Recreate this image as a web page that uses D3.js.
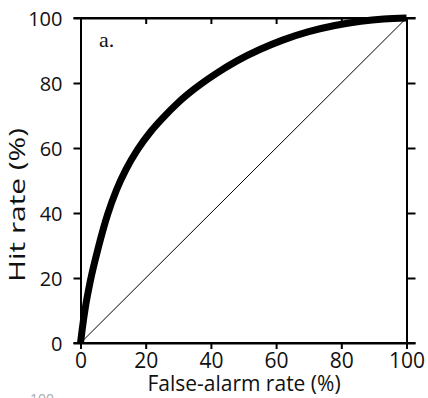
<!DOCTYPE html>
<html>
<head>
<meta charset="utf-8">
<script src="https://cdn.jsdelivr.net/npm/d3@7"></script>
<style>
  html, body { margin: 0; padding: 0; background: #fff; }
  svg { display: block; }
  text { font-family: "Open Sans", sans-serif; fill: #111; }
</style>
</head>
<body>
<svg id="chart" width="428" height="398"></svg>
<script>
// ROC curve: false-alarm rate (%) vs hit rate (%)
const falseAlarm = [0, 0.5, 1.5, 3, 5.5, 8.3, 11, 14, 17.5, 21.5, 25.5, 30, 35, 41, 48, 55, 62, 70, 78, 86, 93, 100];
const hitRate    = [0, 4, 11, 19, 29.5, 39.5, 47, 53.5, 59.5, 65, 69.5, 74, 78.2, 82.5, 86.8, 90.3, 93.2, 95.8, 97.7, 99, 99.7, 100];
// chance line
const chanceX = [0, 100];
const chanceY = [0, 100];
const tickValues = [0, 20, 40, 60, 80, 100];
const xTitle = "False-alarm rate (%)";
const yTitle = "Hit rate (%)";
const panelLabel = "a.";

const svg = d3.select("#chart");
const x = d3.scaleLinear().domain([0, 100]).range([80.5, 406.5]);
const y = d3.scaleLinear().domain([0, 100]).range([343, 18]);

function styleAxis(g) {
  g.selectAll(".domain").attr("stroke", "#000").attr("stroke-width", 2);
  g.selectAll(".tick line").attr("stroke", "#000").attr("stroke-width", 2);
  g.selectAll("text").attr("font-size", 20).attr("fill", "#111")
    .style("font-family", "'Open Sans', sans-serif");
}

// left axis with labels
svg.append("g").attr("transform", `translate(${x(0)},0)`)
  .call(d3.axisLeft(y).tickValues(tickValues).tickSize(7).tickSizeOuter(0).tickPadding(11))
  .call(styleAxis)
  .call(g => g.selectAll("text").attr("dy", "0.36em"));

// bottom axis with labels
svg.append("g").attr("transform", `translate(0,${y(0)})`)
  .call(d3.axisBottom(x).tickValues(tickValues).tickSize(6).tickSizeOuter(0).tickPadding(4))
  .call(styleAxis)
  .call(g => g.selectAll("text").attr("font-size", 21).attr("dy", "0.71em"));

// right axis, outward ticks, no labels
svg.append("g").attr("transform", `translate(${x(100)},0)`)
  .call(d3.axisRight(y).tickValues(tickValues).tickSize(9).tickSizeOuter(0).tickFormat(""))
  .call(styleAxis);

// top axis, inward ticks, no labels
svg.append("g").attr("transform", `translate(0,${y(100)})`)
  .call(d3.axisBottom(x).tickValues([20, 40, 60, 80]).tickSize(6).tickSizeOuter(0).tickFormat(""))
  .call(styleAxis);

// frame lines running past the corners
svg.append("line").attr("x1", x(0) - 7).attr("x2", x(100) + 9)
  .attr("y1", y(100)).attr("y2", y(100)).attr("stroke", "#000").attr("stroke-width", 2);
svg.append("line").attr("x1", x(0) - 7).attr("x2", x(100) + 9)
  .attr("y1", y(0)).attr("y2", y(0)).attr("stroke", "#000").attr("stroke-width", 2);

// chance diagonal
svg.append("path")
  .datum(chanceX.map((v, i) => [v, chanceY[i]]))
  .attr("d", d3.line().x(d => x(d[0])).y(d => y(d[1])))
  .attr("fill", "none").attr("stroke", "#000").attr("stroke-width", 1);

// ROC curve
svg.append("path")
  .datum(falseAlarm.map((v, i) => [v, hitRate[i]]))
  .attr("d", d3.line().x(d => x(d[0])).y(d => y(d[1])).curve(d3.curveMonotoneX))
  .attr("fill", "none").attr("stroke", "#000").attr("stroke-width", 7)
  .attr("stroke-linejoin", "round");

// panel label
svg.append("text").attr("x", 99).attr("y", 47)
  .style("font-family", "'Liberation Serif', 'Times New Roman', serif")
  .attr("font-size", 22).text(panelLabel);

// axis titles
svg.append("text").attr("x", 244).attr("y", 391)
  .attr("text-anchor", "middle").attr("font-size", 21).text(xTitle);
svg.append("text")
  .attr("transform", "translate(25,205) rotate(-90)")
  .attr("text-anchor", "middle").attr("font-size", 21)
  .attr("textLength", 154).attr("lengthAdjust", "spacingAndGlyphs")
  .text(yTitle);

// top of the next panel's tick label, cut off at the bottom edge
svg.append("text").attr("x", 30).attr("y", 404)
  .attr("font-size", 14).style("fill", "#aaa").text("100");
</script>
</body>
</html>
